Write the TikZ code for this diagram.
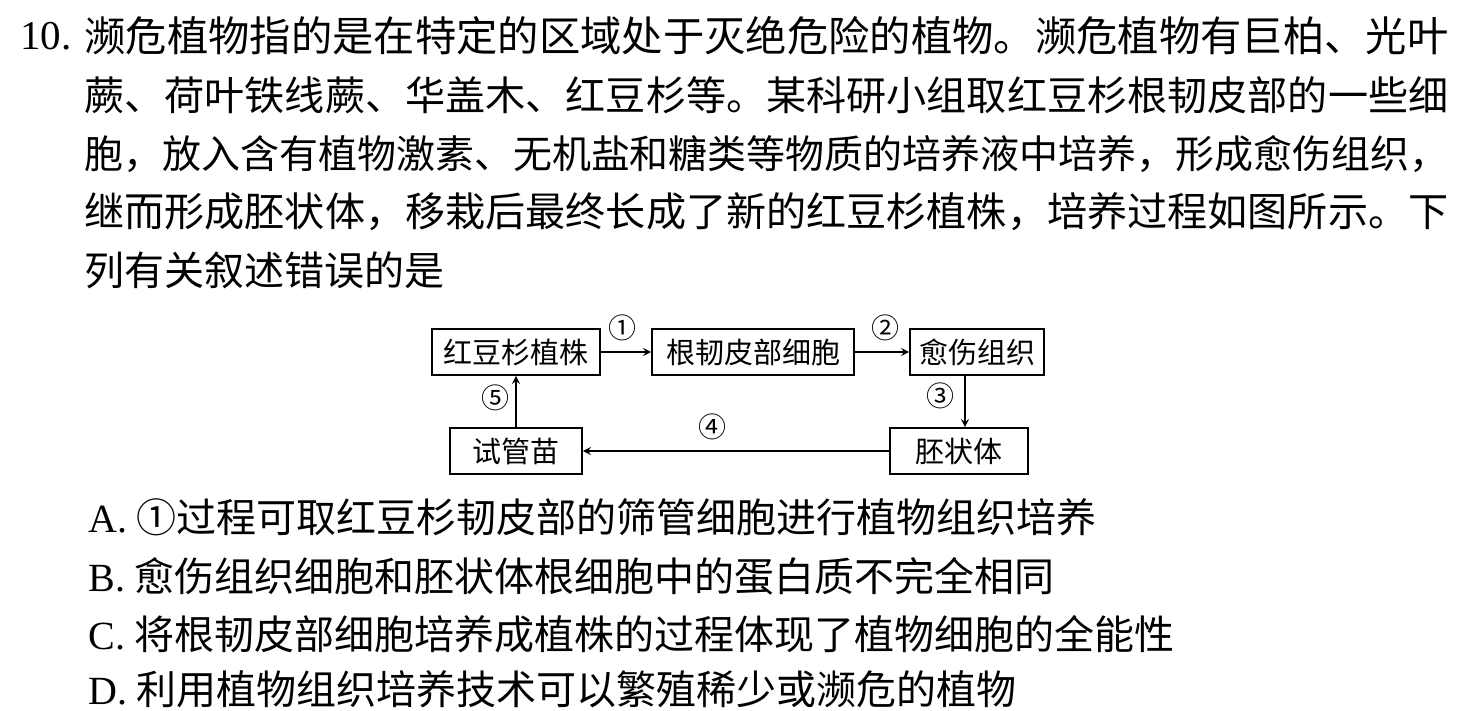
\documentclass[tikz,border=0pt]{standalone}
\usepackage{fontspec}
\setmainfont{Liberation Serif}
\newfontfamily\cjk{Noto Sans CJK SC}
\newcommand{\fullline}[1]{\resizebox{682pt}{!}{#1}}
\begin{document}
\begin{tikzpicture}[x=0.5pt,y=-0.5pt,
  body/.style={anchor=west,inner sep=0,font=\cjk\fontsize{20}{22}\selectfont},
  opt/.style={anchor=west,inner sep=0,font=\cjk\fontsize{20}{22}\selectfont},
  box/.style={draw,line width=0.8pt,inner sep=0,minimum height=23pt,font=\cjk\fontsize{14.5}{16}\selectfont},
  lab/.style={inner sep=0,font=\cjk\fontsize{14}{16}\selectfont},
  arr/.style={->,>=stealth,line width=0.8pt}]
\useasboundingbox (0,0) rectangle (1463,711);
\node[body,font=\fontsize{20.5}{22}\selectfont] (n10) at (20,36) {10.};
\node[body] (l1) at (84,36) {\fullline{濒危植物指的是在特定的区域处于灭绝危险的植物。濒危植物有巨柏、光叶}};
\node[body] (l2) at (84,95) {\fullline{蕨、荷叶铁线蕨、华盖木、红豆杉等。某科研小组取红豆杉根韧皮部的一些细}};
\node[body] (l3) at (84,154) {\fullline{胞，放入含有植物激素、无机盐和糖类等物质的培养液中培养，形成愈伤组织，}};
\node[body] (l4) at (84,212) {\fullline{继而形成胚状体，移栽后最终长成了新的红豆杉植株，培养过程如图所示。下}};
\node[body] (l5) at (84,270) {列有关叙述错误的是};
\node[box,minimum width=84pt] (a) at (516,352) {红豆杉植株};
\node[box,minimum width=101pt] (b) at (753,352) {根韧皮部细胞};
\node[box,minimum width=67pt] (c) at (977,352) {愈伤组织};
\node[box,minimum width=69pt] (d) at (959,451) {胚状体};
\node[box,minimum width=66pt] (e) at (516,451) {试管苗};
\draw[arr] (a) -- (b);
\draw[arr] (b) -- (c);
\draw[arr] (c.south -| 965,0) -- (d.north -| 965,0);
\draw[arr] (d) -- (e);
\draw[arr] (e) -- (a);
\node[lab] (k1) at (622,328) {①};
\node[lab] (k2) at (885,328) {②};
\node[lab] (k3) at (940,396) {③};
\node[lab] (k4) at (712,427) {④};
\node[lab] (k5) at (495,398) {⑤};
\node[opt] (oa) at (88,517) {{\rmfamily A.} ①过程可取红豆杉韧皮部的筛管细胞进行植物组织培养};
\node[opt] (ob) at (88,576) {{\rmfamily B.} 愈伤组织细胞和胚状体根细胞中的蛋白质不完全相同};
\node[opt] (oc) at (88,634) {{\rmfamily C.} 将根韧皮部细胞培养成植株的过程体现了植物细胞的全能性};
\node[opt] (od) at (88,689) {{\rmfamily D.} 利用植物组织培养技术可以繁殖稀少或濒危的植物};
\end{tikzpicture}
\end{document}
